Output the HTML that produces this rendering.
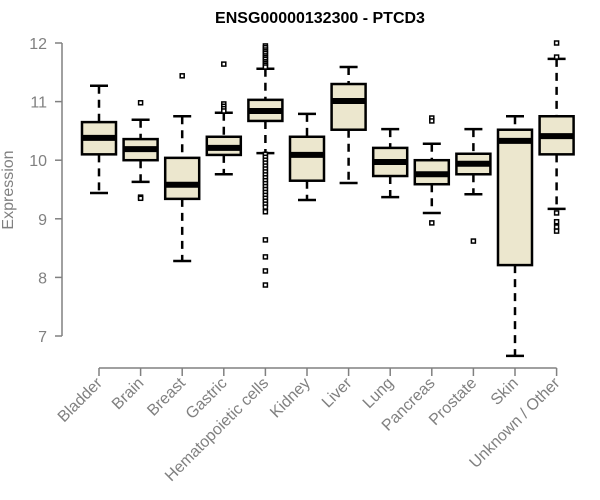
<!DOCTYPE html>
<html><head><meta charset="utf-8"><style>
body{margin:0;background:#fff}
svg{display:block;font-family:"Liberation Sans",Arial,sans-serif}
</style></head><body>
<svg id="chart" width="600" height="500" viewBox="0 0 600 500" xmlns="http://www.w3.org/2000/svg">
<text x="320" y="23" text-anchor="middle" font-weight="bold" font-size="16" fill="#000">ENSG00000132300 - PTCD3</text>
<text transform="translate(13,190) rotate(-90)" text-anchor="middle" font-size="16" fill="#808080">Expression</text>
<g id="plot"></g>
</svg>
<script>
const categories=["Bladder","Brain","Breast","Gastric","Hematopoietic cells","Kidney","Liver","Lung","Pancreas","Prostate","Skin","Unknown / Other"];
const whiskerLow=[9.44,9.63,8.28,9.76,10.12,9.32,9.61,9.37,9.10,9.42,6.66,9.17];
const q1=[10.10,10.00,9.34,10.09,10.67,9.65,10.52,9.73,9.59,9.76,8.21,10.10];
const medians=[10.38,10.19,9.58,10.21,10.84,10.09,11.01,9.97,9.76,9.94,10.33,10.41];
const q3=[10.65,10.36,10.04,10.40,11.03,10.40,11.30,10.21,10.00,10.11,10.52,10.75];
const whiskerHigh=[11.27,10.69,10.75,10.81,11.56,10.79,11.59,10.53,10.28,10.53,10.75,11.73];
const outliers=[[],[10.98,9.37,9.35],[11.44],[11.64,10.96,10.92,10.88,10.84],
[11.95,11.92,11.88,11.85,11.82,11.78,11.75,11.72,11.68,11.65,11.62,11.59,10.1,10.05,10.0,9.95,9.9,9.85,9.8,9.75,9.7,9.65,9.6,9.55,9.5,9.45,9.4,9.35,9.3,9.25,9.2,9.12,8.64,8.35,8.11,7.87],
[],[],[],[10.72,10.67,8.93],[8.62],[],[12.0,11.76,9.10,8.95,8.86,8.79]];
const yTicks=[7,8,9,10,11,12];
const NS="http://www.w3.org/2000/svg";
const g=document.getElementById("plot");
const y=v=>43+(12-v)*58.6;
const x=i=>99+i*41.6;
function mk(t,a,nm){const e=document.createElementNS(NS,t);for(const k in a)e.setAttribute(k,a[k]);


g.appendChild(e);return e;}
mk("line",{x1:62,x2:62,y1:y(12),y2:y(7),stroke:"#808080","stroke-width":1.5},"y-axis-line");
yTicks.forEach(t=>{mk("line",{x1:55,x2:62,y1:y(t),y2:y(t),stroke:"#808080","stroke-width":1.5},"y-tick");
const tx=mk("text",{x:47,y:y(t)+6,"text-anchor":"end","font-size":16,fill:"#808080"},"y-tick-label");tx.textContent=t;});
mk("line",{x1:x(0),x2:x(categories.length-1),y1:368,y2:368,stroke:"#808080","stroke-width":1.5},"x-axis-line");
categories.forEach((c,i)=>{const cx=x(i),w=17;
mk("line",{x1:cx,x2:cx,y1:368,y2:376,stroke:"#808080","stroke-width":1.5},"x-tick");
const tx=mk("text",{transform:`translate(${cx+4},${384}) rotate(-45)`,"text-anchor":"end","font-size":16,fill:"#808080"},"x-tick-label");tx.textContent=c;
mk("line",{x1:cx,x2:cx,y1:y(whiskerHigh[i]),y2:y(q3[i]),stroke:"#000","stroke-width":2.5,"stroke-dasharray":"8,6"},"whisker-upper");
mk("line",{x1:cx,x2:cx,y1:y(q1[i]),y2:y(whiskerLow[i]),stroke:"#000","stroke-width":2.5,"stroke-dasharray":"8,6"},"whisker-lower");
mk("line",{x1:cx-9,x2:cx+9,y1:y(whiskerHigh[i]),y2:y(whiskerHigh[i]),stroke:"#000","stroke-width":2.5},"whisker-cap-high");
mk("line",{x1:cx-9,x2:cx+9,y1:y(whiskerLow[i]),y2:y(whiskerLow[i]),stroke:"#000","stroke-width":2.5},"whisker-cap-low");
mk("rect",{x:cx-w,y:y(q3[i]),width:2*w,height:y(q1[i])-y(q3[i]),fill:"#ECE7CE",stroke:"#000","stroke-width":2.5},"box");
mk("line",{x1:cx-w,x2:cx+w,y1:y(medians[i]),y2:y(medians[i]),stroke:"#000","stroke-width":6},"median-line");
outliers[i].forEach(v=>mk("rect",{x:cx-2,y:y(v)-2,width:4,height:4,fill:"#fff",stroke:"#000","stroke-width":1.5},"outlier-point"));
});
</script>
</body></html>
